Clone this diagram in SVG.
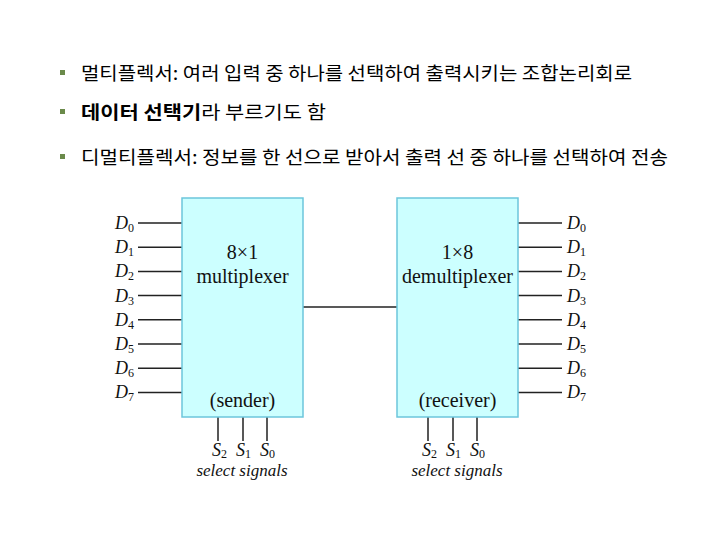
<svg xmlns="http://www.w3.org/2000/svg" width="720" height="540" viewBox="0 0 720 540">
<style>
.k{font-family:"Noto Sans CJK KR","Noto Sans",sans-serif;font-size:18.5px;fill:#000}
.b{font-weight:bold}
.bul{fill:#6a8a4a}
.box{fill:#ccffff;stroke:#6cc6dc;stroke-width:1.5}
.t{font-family:"Liberation Serif","Times New Roman",serif;font-size:20px;fill:#111;text-anchor:middle}
.d{font-family:"Liberation Serif","Times New Roman",serif;font-size:18px;font-style:italic;fill:#111}
.sub{font-style:normal;font-size:12px}
.sel{font-size:17px;text-anchor:middle}
.w{stroke:#222;stroke-width:1.5;fill:none}
</style>
<rect width="720" height="540" fill="#fff"/>
<g id="bullets">
<rect class="bul" x="60" y="70" width="5" height="5"/>
<text class="k" x="81" y="80" textLength="551" lengthAdjust="spacingAndGlyphs">멀티플렉서: 여러 입력 중 하나를 선택하여 출력시키는 조합논리회로</text>
<rect class="bul" x="60" y="109" width="5" height="5"/>
<text class="k" x="81" y="119" textLength="245" lengthAdjust="spacingAndGlyphs"><tspan class="b">데이터 선택기</tspan>라 부르기도 함</text>
<rect class="bul" x="60" y="154" width="5" height="5"/>
<text class="k" x="81" y="164" textLength="587" lengthAdjust="spacingAndGlyphs">디멀티플렉서: 정보를 한 선으로 받아서 출력 선 중 하나를 선택하여 전송</text>
</g>
<g id="connectors">
<path class="w" d="M138 223H182M138 247.2H182M138 271.4H182M138 295.6H182M138 319.8H182M138 344H182M138 368.2H182M138 392.4H182"/>
<path class="w" d="M518 223H562M518 247.2H562M518 271.4H562M518 295.6H562M518 319.8H562M518 344H562M518 368.2H562M518 392.4H562"/>
<path class="w" d="M303 307H397"/>
<path class="w" d="M218 417V441M243 417V441M267 417V441"/>
<path class="w" d="M428 417V441M453 417V441M477 417V441"/>
</g>
<g id="mux">
<rect class="box" x="182" y="198" width="121" height="219"/>
<text class="t" x="242.5" y="259">8×1</text>
<text class="t" x="242.5" y="283">multiplexer</text>
<text class="t" x="242.5" y="407">(sender)</text>
</g>
<g id="demux">
<rect class="box" x="397" y="198" width="121" height="219"/>
<text class="t" x="457.5" y="259">1×8</text>
<text class="t" x="457.5" y="283">demultiplexer</text>
<text class="t" x="457.5" y="407">(receiver)</text>
</g>
<g id="mux-inputs" class="d">
<text x="115" y="229">D<tspan class="sub" dy="3">0</tspan></text>
<text x="115" y="253.2">D<tspan class="sub" dy="3">1</tspan></text>
<text x="115" y="277.4">D<tspan class="sub" dy="3">2</tspan></text>
<text x="115" y="301.6">D<tspan class="sub" dy="3">3</tspan></text>
<text x="115" y="325.8">D<tspan class="sub" dy="3">4</tspan></text>
<text x="115" y="350">D<tspan class="sub" dy="3">5</tspan></text>
<text x="115" y="374.2">D<tspan class="sub" dy="3">6</tspan></text>
<text x="115" y="398.4">D<tspan class="sub" dy="3">7</tspan></text>
</g>
<g id="demux-outputs" class="d">
<text x="567" y="229">D<tspan class="sub" dy="3">0</tspan></text>
<text x="567" y="253.2">D<tspan class="sub" dy="3">1</tspan></text>
<text x="567" y="277.4">D<tspan class="sub" dy="3">2</tspan></text>
<text x="567" y="301.6">D<tspan class="sub" dy="3">3</tspan></text>
<text x="567" y="325.8">D<tspan class="sub" dy="3">4</tspan></text>
<text x="567" y="350">D<tspan class="sub" dy="3">5</tspan></text>
<text x="567" y="374.2">D<tspan class="sub" dy="3">6</tspan></text>
<text x="567" y="398.4">D<tspan class="sub" dy="3">7</tspan></text>
</g>
<g id="mux-select" class="d">
<text x="212" y="456">S<tspan class="sub" dy="1.5">2</tspan></text>
<text x="236" y="456">S<tspan class="sub" dy="1.5">1</tspan></text>
<text x="260" y="456">S<tspan class="sub" dy="1.5">0</tspan></text>
<text class="sel" x="242" y="476">select signals</text>
</g>
<g id="demux-select" class="d">
<text x="422" y="456">S<tspan class="sub" dy="1.5">2</tspan></text>
<text x="446" y="456">S<tspan class="sub" dy="1.5">1</tspan></text>
<text x="470" y="456">S<tspan class="sub" dy="1.5">0</tspan></text>
<text class="sel" x="457" y="476">select signals</text>
</g>
</svg>
